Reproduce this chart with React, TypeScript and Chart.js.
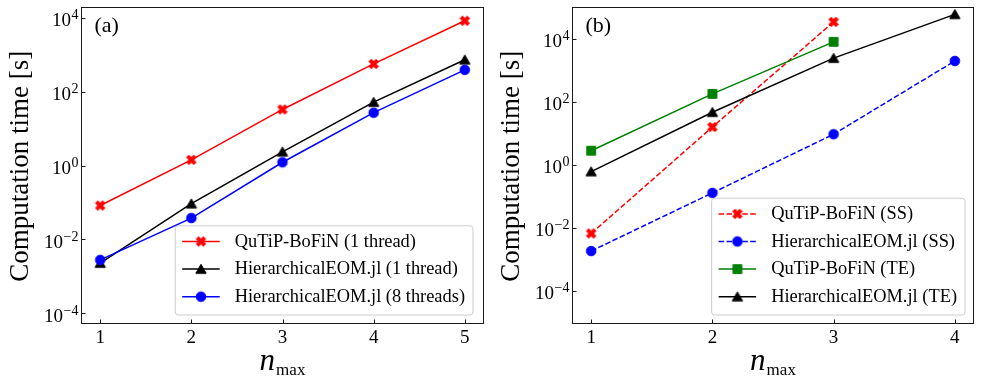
import React, { useEffect, useRef } from 'react';
import { Chart, registerables } from 'chart.js';

Chart.register(...registerables);

const FONT = '"Liberation Serif", "Times New Roman", serif';

// ---------- Panel (a) data ----------
const nA = [1, 2, 3, 4, 5];
const bofin1Thread = [0.083, 1.43, 33, 563, 8300];
const heom1Thread = [0.0023, 0.093, 2.36, 52, 730];
const heom8Threads = [0.0028, 0.038, 1.23, 27, 390];

// ---------- Panel (b) data ----------
const nB = [1, 2, 3, 4];
const bofinSS = [0.0065, 15.6, 34000];
const heomSS = [0.0018, 0.126, 9.2, 1950];
const bofinTE = [2.76, 176, 7900];
const heomTE = [0.6, 46, 2400, 59000];

// ---------- tick labels ----------
const yTickExps = [-4, -2, 0, 2, 4];
const xTicksA = [1, 2, 3, 4, 5];
const xTicksB = [1, 2, 3, 4];

type Series = {
  label: string;
  xs: number[];
  ys: number[];
  color: string;
  marker: 'x' | 'triangle' | 'circle' | 'square';
  dashed: boolean;
};

const seriesA: Series[] = [
  { label: 'QuTiP-BoFiN (1 thread)', xs: nA, ys: bofin1Thread, color: '#ff0000', marker: 'x', dashed: false },
  { label: 'HierarchicalEOM.jl (1 thread)', xs: nA, ys: heom1Thread, color: '#000000', marker: 'triangle', dashed: false },
  { label: 'HierarchicalEOM.jl (8 threads)', xs: nA, ys: heom8Threads, color: '#0000ff', marker: 'circle', dashed: false },
];

const seriesB: Series[] = [
  { label: 'QuTiP-BoFiN (SS)', xs: nB, ys: bofinSS, color: '#ff0000', marker: 'x', dashed: true },
  { label: 'HierarchicalEOM.jl (SS)', xs: nB, ys: heomSS, color: '#0000ff', marker: 'circle', dashed: true },
  { label: 'QuTiP-BoFiN (TE)', xs: nB, ys: bofinTE, color: '#008000', marker: 'square', dashed: false },
  { label: 'HierarchicalEOM.jl (TE)', xs: nB, ys: heomTE, color: '#000000', marker: 'triangle', dashed: false },
];

const DASH = [5.5, 2.4];
const AXIS_COLOR = '#1a1a1a';

function makeMarker(kind: string, color: string): HTMLCanvasElement {
  const s = 16;
  const c = document.createElement('canvas');
  c.width = s;
  c.height = s;
  const ctx = c.getContext('2d')!;
  ctx.fillStyle = color;
  ctx.strokeStyle = color;
  ctx.lineWidth = 1;
  ctx.lineJoin = 'miter';
  const m = s / 2;
  ctx.beginPath();
  if (kind === 'circle') {
    ctx.arc(m, m, 4.8, 0, Math.PI * 2);
  } else if (kind === 'square') {
    ctx.rect(m - 4.4, m - 4.4, 8.8, 8.8);
  } else if (kind === 'triangle') {
    ctx.moveTo(m, m - 4.8);
    ctx.lineTo(m - 5.2, m + 4.2);
    ctx.lineTo(m + 5.2, m + 4.2);
    ctx.closePath();
  } else {
    // matplotlib filled 'X'
    const pts = [
      [0.25, 0], [0.5, 0.25], [0.75, 0], [1, 0.25], [0.75, 0.5], [1, 0.75],
      [0.75, 1], [0.5, 0.75], [0.25, 1], [0, 0.75], [0.25, 0.5], [0, 0.25],
    ];
    const sz = 9.6;
    pts.forEach(([px, py], i) => {
      const x = m + (px - 0.5) * sz;
      const y = m + (py - 0.5) * sz;
      if (i === 0) ctx.moveTo(x, y);
      else ctx.lineTo(x, y);
    });
    ctx.closePath();
  }
  ctx.fill();
  ctx.stroke();
  return c;
}

type PanelSpec = {
  series: Series[];
  xTicks: number[];
  xMin: number;
  xMax: number;
  yMinExp: number;
  yMaxExp: number;
  tag: string;
  canvasLeft: number;
  canvasWidth: number;
  areaLeft: number;
  areaRight: number;
  areaTop: number;
  areaBottom: number;
  legendRightGap: number;
};

const H = 383;

const decorPlugin = {
  id: 'decor',
  afterDraw(chart: any, _args: any, opts: any) {
    const spec: PanelSpec = opts.spec;
    const markers: HTMLCanvasElement[] = opts.markers;
    const { ctx, chartArea: a, scales } = chart;
    ctx.save();

    const L = Math.round(a.left) - 0.5;
    const R = Math.round(a.right) + 0.5;
    const T = Math.round(a.top) + 0.5;
    const B = Math.round(a.bottom) + 0.5;

    // frame
    ctx.strokeStyle = AXIS_COLOR;
    ctx.lineWidth = 1;
    ctx.strokeRect(L, T, R - L, B - T);

    // inward tick marks
    const xs = scales.x;
    const ys = scales.y;
    ctx.beginPath();
    for (const v of spec.xTicks) {
      const px = Math.round(xs.getPixelForValue(v)) + 0.5;
      ctx.moveTo(px, B);
      ctx.lineTo(px, B - 4);
    }
    for (const e of yTickExps) {
      const py = Math.round(ys.getPixelForValue(Math.pow(10, e))) + 0.5;
      ctx.moveTo(L, py);
      ctx.lineTo(L + 4, py);
    }
    ctx.stroke();

    ctx.fillStyle = '#000';
    ctx.textBaseline = 'alphabetic';

    // x tick labels
    ctx.textAlign = 'center';
    ctx.font = `19px ${FONT}`;
    for (const v of spec.xTicks) {
      ctx.fillText(String(v), xs.getPixelForValue(v), a.bottom + 20);
    }

    // y tick labels: 10^e
    ctx.textAlign = 'left';
    for (const e of yTickExps) {
      const py = ys.getPixelForValue(Math.pow(10, e));
      const base = '10';
      const sup = e < 0 ? '\u2212' + Math.abs(e) : String(e);
      ctx.font = `19px ${FONT}`;
      const wb = ctx.measureText(base).width;
      ctx.font = `14px ${FONT}`;
      const ws = ctx.measureText(sup).width;
      const xr = a.left - 3.5;
      ctx.font = `19px ${FONT}`;
      ctx.fillText(base, xr - ws - wb - 0.5, py + 8.5);
      ctx.font = `14px ${FONT}`;
      ctx.fillText(sup, xr - ws, py + 1.5);
    }

    // x title n_max
    ctx.font = `italic 31px ${FONT}`;
    const wn = ctx.measureText('n').width;
    ctx.font = `17px ${FONT}`;
    const wm = ctx.measureText('max').width;
    const cx = (a.left + a.right) / 2;
    const x0 = cx - (wn + wm + 1) / 2;
    ctx.font = `italic 31px ${FONT}`;
    ctx.fillText('n', x0, 370);
    ctx.font = `17px ${FONT}`;
    ctx.fillText('max', x0 + wn + 1, 375);

    // y title
    ctx.save();
    ctx.translate(a.left - 54, (a.top + a.bottom) / 2 + 1.5);
    ctx.rotate(-Math.PI / 2);
    ctx.textAlign = 'center';
    ctx.font = `27px ${FONT}`;
    ctx.fillText('Computation time [s]', 0, 0);
    ctx.restore();

    // panel tag
    ctx.font = `22px ${FONT}`;
    ctx.textAlign = 'left';
    ctx.fillText(spec.tag, a.left + 12.5, a.top + 25);

    // legend
    const rowH = 27.6;
    const n = spec.series.length;
    ctx.font = `18.4px ${FONT}`;
    let maxW = 0;
    spec.series.forEach((s) => {
      maxW = Math.max(maxW, ctx.measureText(s.label).width);
    });
    const boxRight = a.right - spec.legendRightGap;
    const boxBottom = a.bottom - 8;
    const boxH = 15.7 + (n - 1) * rowH + 18.3;
    const boxW = 59.5 + maxW + 8;
    const boxLeft = boxRight - boxW;
    const boxTop = boxBottom - boxH;
    ctx.beginPath();
    const r = 3;
    ctx.moveTo(boxLeft + r, boxTop);
    ctx.arcTo(boxRight, boxTop, boxRight, boxBottom, r);
    ctx.arcTo(boxRight, boxBottom, boxLeft, boxBottom, r);
    ctx.arcTo(boxLeft, boxBottom, boxLeft, boxTop, r);
    ctx.arcTo(boxLeft, boxTop, boxRight, boxTop, r);
    ctx.closePath();
    ctx.fillStyle = 'rgba(255,255,255,0.8)';
    ctx.fill();
    ctx.strokeStyle = '#cccccc';
    ctx.lineWidth = 1;
    ctx.stroke();

    spec.series.forEach((s, i) => {
      const ry = boxTop + 15.7 + i * rowH;
      ctx.strokeStyle = s.color;
      ctx.lineWidth = 1.5;
      ctx.setLineDash(s.dashed ? DASH : []);
      ctx.beginPath();
      ctx.moveTo(boxLeft + 7, ry);
      ctx.lineTo(boxLeft + 44.5, ry);
      ctx.stroke();
      ctx.setLineDash([]);
      const mk = markers[i];
      ctx.drawImage(mk, boxLeft + 25.75 - mk.width / 2, ry - mk.height / 2);
      ctx.fillStyle = '#000';
      ctx.font = `18.4px ${FONT}`;
      ctx.textBaseline = 'middle';
      ctx.fillText(s.label, boxLeft + 59.5, ry + 0.5);
      ctx.textBaseline = 'alphabetic';
    });

    ctx.restore();
  },
};

function Panel({ spec }: { spec: PanelSpec }) {
  const ref = useRef<HTMLCanvasElement>(null);
  useEffect(() => {
    const canvas = ref.current!;
    const markers = spec.series.map((s) => makeMarker(s.marker, s.color));
    const nDs = spec.series.length;
    const chart = new Chart(canvas, {
      type: 'line',
      data: {
        datasets: spec.series.map((s, i) => ({
          label: s.label,
          data: s.ys.map((y, j) => ({ x: s.xs[j], y })),
          borderColor: s.color,
          backgroundColor: s.color,
          borderWidth: 1.5,
          borderDash: s.dashed ? DASH : [],
          pointStyle: markers[i],
          pointRadius: 5,
          pointHoverRadius: 5,
          tension: 0,
          fill: false,
          order: nDs - i,
        })),
      },
      options: {
        animation: false,
        responsive: false,
        maintainAspectRatio: false,
        events: [],
        layout: {
          padding: {
            left: 0,
            top: spec.areaTop,
            right: spec.canvasWidth - spec.areaRight,
            bottom: 0,
          },
        },
        plugins: {
          legend: { display: false },
          tooltip: { enabled: false },
          decor: { spec, markers },
        } as any,
        scales: {
          x: {
            type: 'linear',
            min: spec.xMin,
            max: spec.xMax,
            afterBuildTicks: (axis: any) => {
              axis.ticks = spec.xTicks.map((v) => ({ value: v }));
            },
            afterFit: (axis: any) => {
              axis.height = H - spec.areaBottom;
            },
            ticks: { display: false },
            grid: { display: false, drawTicks: false },
            border: { display: false },
          },
          y: {
            type: 'logarithmic',
            min: Math.pow(10, spec.yMinExp),
            max: Math.pow(10, spec.yMaxExp),
            afterBuildTicks: (axis: any) => {
              axis.ticks = yTickExps.map((e) => ({ value: Math.pow(10, e) }));
            },
            afterFit: (axis: any) => {
              axis.width = spec.areaLeft;
            },
            ticks: { display: false },
            grid: { display: false, drawTicks: false },
            border: { display: false },
          },
        },
      },
      plugins: [decorPlugin],
    } as any);
    return () => chart.destroy();
  }, [spec]);
  return (
    <canvas
      ref={ref}
      width={spec.canvasWidth}
      height={H}
      style={{ position: 'absolute', left: spec.canvasLeft, top: 0, width: spec.canvasWidth, height: H, display: 'block' }}
    />
  );
}

const specA: PanelSpec = {
  series: seriesA,
  xTicks: xTicksA,
  xMin: 0.8,
  xMax: 5.2,
  yMinExp: -4.26,
  yMaxExp: 4.305,
  tag: '(a)',
  canvasLeft: 0,
  canvasWidth: 490,
  areaLeft: 82,
  areaRight: 483,
  areaTop: 6,
  areaBottom: 323,
  legendRightGap: 10,
};

const specB: PanelSpec = {
  series: seriesB,
  xTicks: xTicksB,
  xMin: 0.85,
  xMax: 4.15,
  yMinExp: -5.03,
  yMaxExp: 5.02,
  tag: '(b)',
  canvasLeft: 490,
  canvasWidth: 491,
  areaLeft: 83,
  areaRight: 483,
  areaTop: 6,
  areaBottom: 323,
  legendRightGap: 8,
};

export default function App() {
  return (
    <div style={{ position: 'fixed', left: 0, top: 0, width: 981, height: H, background: '#fff', overflow: 'hidden' }}>
      <Panel spec={specA} />
      <Panel spec={specB} />
    </div>
  );
}
